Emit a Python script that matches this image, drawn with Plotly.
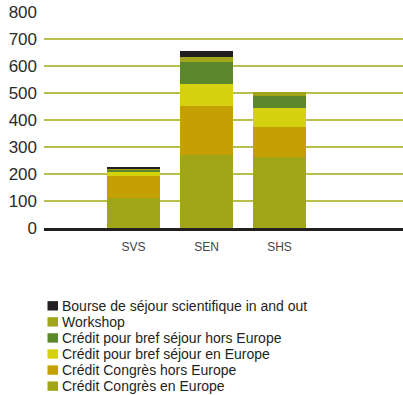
import plotly.graph_objects as go

# Disciplines (x categories)
categories = ["SVS", "SEN", "SHS"]

# Funding types, bottom of the stack first
series_names = [
    "Crédit Congrès en Europe",
    "Crédit Congrès hors Europe",
    "Crédit pour bref séjour en Europe",
    "Crédit pour bref séjour hors Europe",
    "Workshop",
    "Bourse de séjour scientifique in and out",
]
conges_europe = [110, 271, 264]
conges_hors_europe = [81, 182, 111]
bref_europe = [17, 81, 70]
bref_hors_europe = [8, 81, 45]
workshop = [4, 19, 16]
bourse = [4, 22, 0]

series_values = [conges_europe, conges_hors_europe, bref_europe,
                 bref_hors_europe, workshop, bourse]
series_colors = ["#9fa617", "#c4a004", "#d6d10f", "#5c872a", "#a0a51a", "#231f20"]

y_ticks = [0, 100, 200, 300, 400, 500, 600, 700, 800]

W, H = 403, 395
ML, MR, MT, MB = 44, 0, 12, 166.5

fig = go.Figure()
for name, vals, col in zip(series_names, series_values, series_colors):
    fig.add_trace(go.Bar(
        x=categories, y=vals, name=name, marker_color=col,
        marker_line_width=0, width=0.726, showlegend=False,
    ))

# Legend drawn as squares + labels, top row is the last series
plot_w = W - ML - MR
plot_h = H - MT - MB


def px_x(px):
    return (px - ML) / plot_w


def px_y(py):
    return (H - MB - py) / plot_h


shapes = []
annotations = []
row0, row_gap = 306.5, 16.1
for i, (name, col) in enumerate(zip(series_names[::-1], series_colors[::-1])):
    cy = row0 + i * row_gap
    shapes.append(dict(type="rect", xref="paper", yref="paper",
                       x0=px_x(47.5), x1=px_x(58), y0=px_y(cy - 4.7), y1=px_y(cy + 4.7),
                       fillcolor=col, line_width=0))
    annotations.append(dict(text=name, xref="paper", yref="paper",
                            x=px_x(60), y=px_y(cy), xanchor="left", yanchor="middle",
                            showarrow=False,
                            font=dict(family="Liberation Sans", size=14, color="#231f20")))

fig.update_layout(
    width=W, height=H,
    margin=dict(l=ML, r=MR, t=MT, b=MB, pad=0),
    barmode="stack",
    plot_bgcolor="white", paper_bgcolor="white",
    showlegend=False,
    shapes=shapes, annotations=annotations,
    xaxis=dict(
        range=[-1.226, 3.692], showgrid=False, zeroline=False,
        showline=True, linecolor="#231f20", linewidth=2.5,
        tickfont=dict(family="Liberation Sans Narrow, Liberation Sans", size=12, color="#444444"),
        ticks="", ticklabelstandoff=6,
    ),
    yaxis=dict(
        range=[0, 801], tickvals=y_ticks, showgrid=True,
        gridcolor="#b8bf4a", gridwidth=1.5, zeroline=False, showline=False,
        tickfont=dict(family="Liberation Sans", size=17, color="#2b2b2b"),
        ticks="", ticklabelstandoff=6,
    ),
)

fig.write_html("out.html")
